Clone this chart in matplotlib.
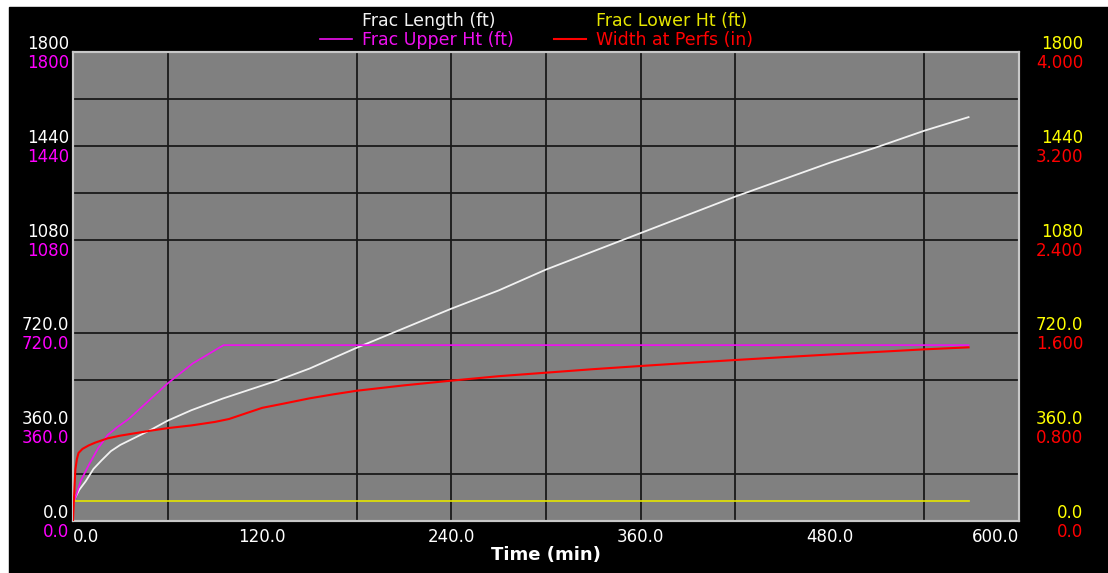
import matplotlib
matplotlib.use("Agg")
import matplotlib.pyplot as plt
from matplotlib.patches import Rectangle
from matplotlib.transforms import offset_copy

# Frac Length (ft)
len_time = [0, 1, 4, 8, 13, 18, 24, 30, 40, 50, 60, 75, 95, 110, 130, 150, 180,
            210, 240, 270, 300, 330, 360, 390, 420, 450, 480, 510, 540, 568]
frac_length = [60, 85, 120, 152, 200, 232, 268, 292, 322, 352, 385, 425, 470, 500,
               540, 585, 665, 740, 815, 885, 965, 1035, 1105, 1175, 1245, 1310,
               1375, 1435, 1498, 1550]

# Frac Upper Ht (ft)
up_time = [0, 1, 5, 10, 16, 22, 28, 35, 45, 60, 76, 95.5, 568]
frac_upper = [60, 80, 155, 215, 280, 330, 360, 390, 445, 528, 605, 675, 675]

# Frac Lower Ht (ft)
low_time = [0.5, 568]
frac_lower = [77, 77]

# Width at Perfs (in)
w_time = [0, 0.5, 1, 1.5, 2.5, 3.5, 6, 10, 14, 22, 30, 40, 50, 60, 75, 90, 99,
          110, 120, 135, 150, 165, 180, 210, 240, 270, 300, 330, 360, 390, 420,
          450, 480, 510, 540, 568]
width_perfs = [0, 0.15, 0.30, 0.44, 0.53, 0.58, 0.615, 0.645, 0.668, 0.705, 0.728,
               0.75, 0.772, 0.792, 0.815, 0.845, 0.87, 0.92, 0.965, 1.005, 1.046,
               1.08, 1.111, 1.157, 1.197, 1.235, 1.265, 1.295, 1.322, 1.348, 1.373,
               1.397, 1.42, 1.442, 1.464, 1.481]

x_ticks = [0, 120, 240, 360, 480, 600]
x_labels = ["0.0", "120.0", "240.0", "360.0", "480.0", "600.0"]
ft_ticks = [0, 360, 720, 1080, 1440, 1800]
ft_labels = ["0.0", "360.0", "720.0", "1080", "1440", "1800"]
in_ticks = [0, 0.8, 1.6, 2.4, 3.2, 4.0]
in_labels = ["0.0", "0.800", "1.600", "2.400", "3.200", "4.000"]

grid_x = [60, 180, 240, 300, 360, 420, 540]
grid_y = [180, 540, 720, 1080, 1260, 1440, 1620]

W, H = 1108, 573
FS = 12
plt.rcParams['font.family'] = ['DejaVu Sans']

fig = plt.figure(figsize=(W / 100, H / 100), dpi=100, facecolor='white')
fig.add_artist(Rectangle((9 / W, 0), 1, 1 - 7 / H, transform=fig.transFigure,
                         color='black', zorder=-10))

ax = fig.add_axes([73 / W, 1 - 521 / H, 946 / W, 469 / H])
ax.set_facecolor('#808080')
ax.set_xlim(0, 600)
ax.set_ylim(0, 1800)
ax2 = ax.twinx()
ax2.set_ylim(0, 4)

for gx in grid_x:
    ax.axvline(gx, color='#1a1a1a', lw=1.3, zorder=1)
for gy in grid_y:
    ax.axhline(gy, color='#1a1a1a', lw=1.3, zorder=1)

l_len, = ax.plot(len_time, frac_length, color='#f2f2f2', lw=1.3, zorder=3)
l_up, = ax.plot(up_time, frac_upper, color='#f010f0', lw=1.2, zorder=3)
l_low, = ax.plot(low_time, frac_lower, color='#e6e600', lw=1.2, zorder=3)
l_w, = ax2.plot(w_time, width_perfs, color='#ff0000', lw=1.5, zorder=3)

for a in (ax, ax2):
    a.set_yticks([])
    for s in a.spines.values():
        s.set_color('#c8c8c8')
        s.set_linewidth(1.5)

ax.set_xticks(x_ticks, x_labels, color='white', fontsize=FS)
ax.tick_params(axis='x', length=0, pad=5)
xl = ax.get_xticklabels()
xl[0].set_ha('left')
xl[-1].set_ha('right')
ax.set_xlabel('Time (min)', color='white', fontsize=13, fontweight='bold', labelpad=0)

# stacked axis labels: upper one above the tick, lower one below it
tl = ax.get_yaxis_transform()
tr = ax2.get_yaxis_transform()
for v, lab in zip(ft_ticks, ft_labels):
    ax.text(-4 / 946, v, lab, transform=offset_copy(tl, fig=fig, y=3, units='dots'),
            ha='right', va='baseline', color='white', fontsize=FS, clip_on=False)
    ax.text(-4 / 946, v, lab, transform=offset_copy(tl, fig=fig, y=-2, units='dots'),
            ha='right', va='top', color='#ff00ff', fontsize=FS, clip_on=False)
    ax.text(1 + 64 / 946, v, lab, transform=offset_copy(tl, fig=fig, y=3, units='dots'),
            ha='right', va='baseline', color='#ffff00', fontsize=FS, clip_on=False)
for v, lab in zip(in_ticks, in_labels):
    ax2.text(1 + 64 / 946, v, lab, transform=offset_copy(tr, fig=fig, y=-2, units='dots'),
             ha='right', va='top', color='#ff0000', fontsize=FS, clip_on=False)

leg = fig.legend([l_len, l_up, l_low, l_w],
                 ['Frac Length (ft)', 'Frac Upper Ht (ft)',
                  'Frac Lower Ht (ft)', 'Width at Perfs (in)'],
                 ncol=2, loc='upper left', bbox_to_anchor=(320 / W, 1 - 12 / H),
                 frameon=False, prop={'size': 12.5}, handlelength=1.85,
                 handletextpad=0.57, columnspacing=2.3, labelspacing=0.08,
                 borderpad=0, borderaxespad=0, labelcolor='linecolor')
leg.legend_handles[0].set_visible(False)
leg.legend_handles[2].set_visible(False)

fig.savefig('out.png', dpi=100, facecolor=fig.get_facecolor())
